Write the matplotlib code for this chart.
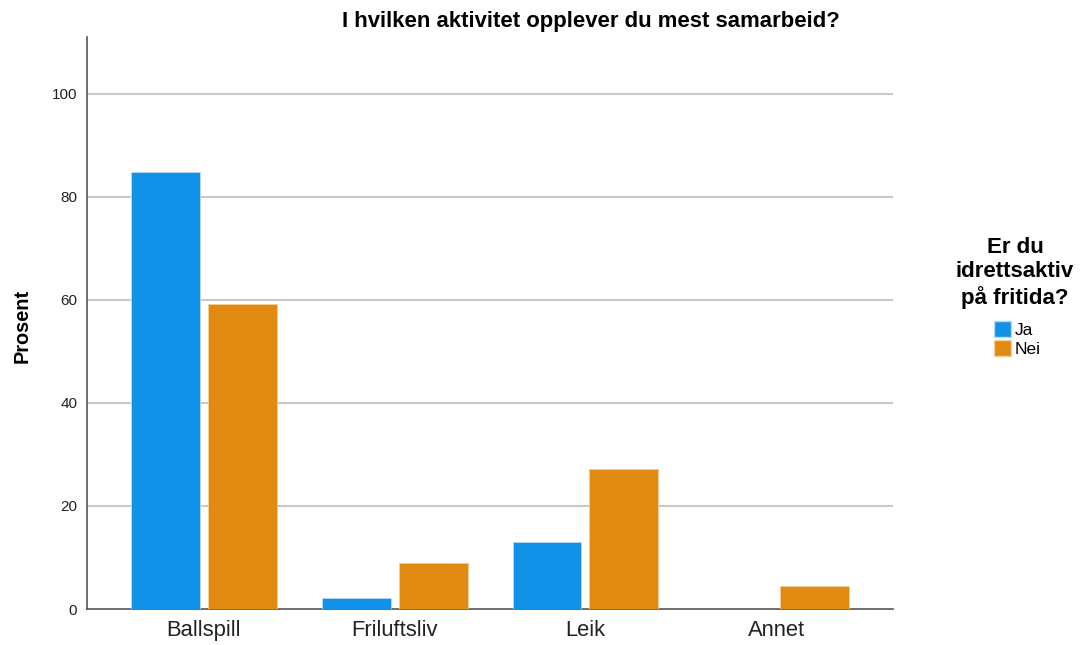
import matplotlib.pyplot as plt
import numpy as np
from matplotlib.patches import Patch

# Data
kategorier = ['Ballspill', 'Friluftsliv', 'Leik', 'Annet']
ja = [84.8, 2.1, 13.0, 0.0]
nei = [59.2, 9.0, 27.2, 4.5]
farge_ja = '#1192e8'
farge_nei = '#e08a11'

plt.rcParams['font.family'] = ['Liberation Sans', 'DejaVu Sans']

fig = plt.figure(figsize=(10.8, 6.45), dpi=100)
ax = fig.add_axes([0.0806, 0.0558, 0.7463, 0.8868])

x = np.arange(len(kategorier))
bredde = 0.361
avstand = 0.2015
ax.bar(x - avstand, ja, width=bredde, color=farge_ja, edgecolor='#b8dcf7', linewidth=0.6, zorder=3)
ax.bar(x + avstand, nei, width=bredde, color=farge_nei, edgecolor='#f3cf9c', linewidth=0.6, zorder=3)

ax.set_xlim(-0.613, 3.613)
ax.set_ylim(0, 111)
ax.set_xticks(x)
ax.set_xticklabels(kategorier, fontsize=15.8, color='#222222')
ax.set_yticks([0, 20, 40, 60, 80, 100])
ax.set_yticklabels(['0', '20', '40', '60', '80', '100'], fontsize=11, color='#222222')
ax.tick_params(axis='both', length=0)
ax.tick_params(axis='x', pad=8)
ax.tick_params(axis='y', pad=7)

for yv in [20, 40, 60, 80, 100]:
    ax.axhline(yv, color='#c8c8c8', linewidth=1.5, zorder=1)

for s in ['top', 'right']:
    ax.spines[s].set_visible(False)
for s in ['left', 'bottom']:
    ax.spines[s].set_color('#555555')
    ax.spines[s].set_linewidth(1.2)

fig.text(22 / 1080, 1 - 326 / 645, 'Prosent', rotation=90, fontsize=14.4,
         fontweight='bold', ha='center', va='center')
fig.text(591 / 1080, 1 - 21 / 645, 'I hvilken aktivitet opplever du mest samarbeid?',
         fontsize=15.9, fontweight='bold', ha='center', va='center')

# Legend title drawn separately for control of the line spacing
fig.text(1015 / 1080, 1 - 273 / 645, 'Er du\nidrettsaktiv\npå fritida?',
         fontsize=16, fontweight='bold', ha='center', va='center',
         multialignment='center', linespacing=1.18)
handles = [Patch(facecolor=farge_ja, edgecolor='#b8dcf7'),
           Patch(facecolor=farge_nei, edgecolor='#f3cf9c')]
fig.legend(handles, ['Ja', 'Nei'], loc='center',
           bbox_to_anchor=(1017 / 1080, 1 - 339 / 645),
           frameon=False, fontsize=12.5, handlelength=1.0, handleheight=1.0,
           handletextpad=0.2, labelspacing=0.15, borderpad=0)

fig.savefig('out.png', dpi=100)
